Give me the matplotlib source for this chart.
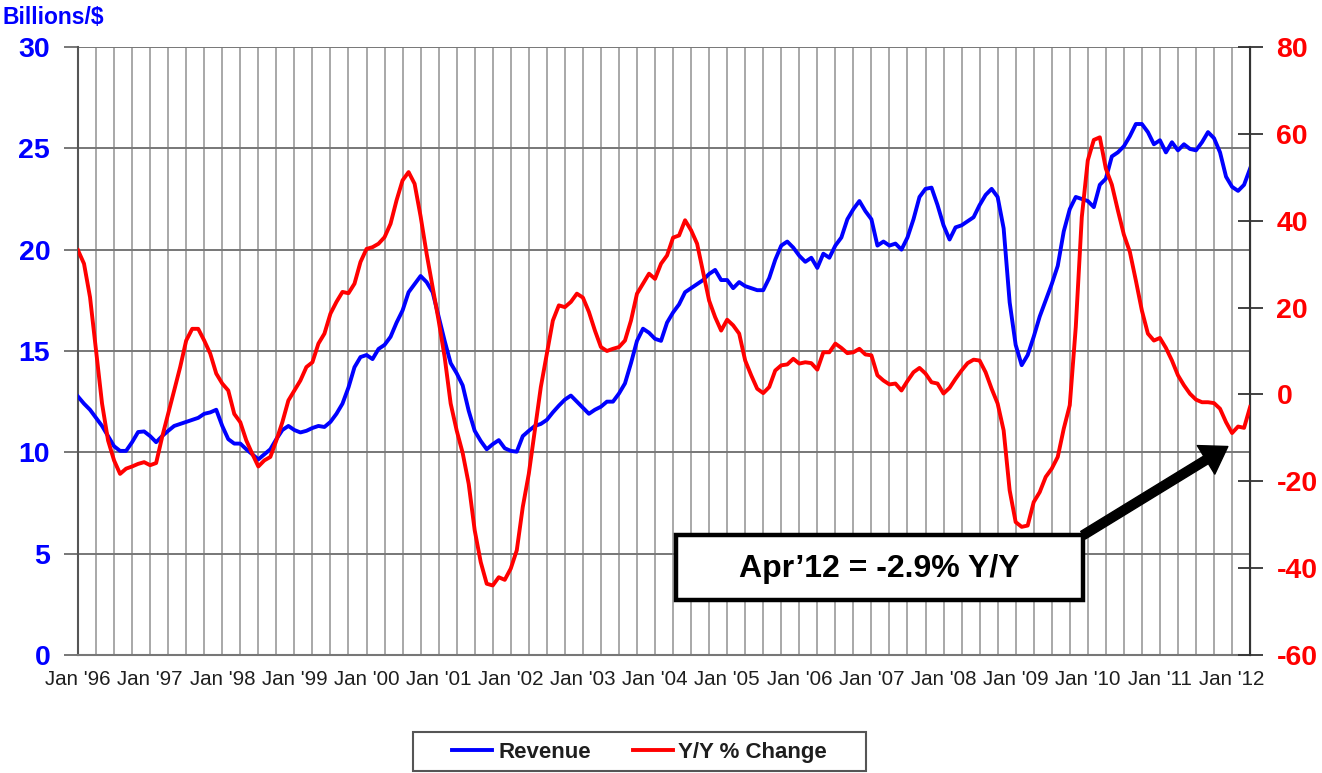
import numpy as np
import matplotlib
matplotlib.use("Agg")
import matplotlib.pyplot as plt
from matplotlib.patches import Rectangle

plt.rcParams["font.family"] = ["Liberation Sans", "DejaVu Sans"]
plt.rcParams["axes.unicode_minus"] = False

# Monthly data, Jan 1996 .. Apr 2012
revenue = [
    # 1996 - Aug 1998
    12.75, 12.4, 12.1, 11.7, 11.3, 10.8, 10.3, 10.07, 10.07, 10.5, 11.0, 11.03,
    10.8, 10.5, 10.8, 11.06, 11.3, 11.4, 11.5, 11.6, 11.7, 11.9, 11.97, 12.1,
    11.3, 10.65, 10.43, 10.43, 10.15, 9.9, 9.65, 9.9,
    10.15, 10.65, 11.1, 11.3, 11.1, 10.98, 11.06, 11.2, 11.3, 11.25, 11.5, 11.9,
    12.4, 13.2, 14.2, 14.7, 14.8, 14.6, 15.1, 15.3, 15.7, 16.4, 17.0, 17.9,
    18.3, 18.7, 18.4, 17.9, 16.7, 15.5, 14.4, 13.9,
    13.3, 12.05, 11.06, 10.56, 10.15, 10.4, 10.6, 10.2, 10.07, 10.03, 10.8, 11.06,
    11.3, 11.4, 11.6, 11.97, 12.3, 12.6, 12.8, 12.5, 12.2, 11.9, 12.1, 12.25,
    12.5, 12.5, 12.9, 13.4, 14.4, 15.5, 16.1, 15.9,
    15.6, 15.5, 16.4, 16.9, 17.3, 17.9, 18.1, 18.3, 18.5, 18.8, 19.0, 18.5,
    18.5, 18.1, 18.4, 18.2, 18.1, 18.0, 18.0, 18.6, 19.5, 20.2, 20.4, 20.1,
    19.7, 19.4, 19.6, 19.1, 19.8, 19.6, 20.2, 20.6, 21.5,
    22.0, 22.4, 21.9, 21.5, 20.2, 20.4, 20.2, 20.3, 20.0, 20.6, 21.5, 22.6,
    23.0, 23.06, 22.2, 21.2, 20.5, 21.1, 21.2, 21.4, 21.6, 22.2, 22.7, 23.0,
    22.6, 21.05, 17.4, 15.3, 14.3, 14.8, 15.7, 16.7, 17.5,
    18.3, 19.2, 20.9, 22.0, 22.6, 22.5, 22.4, 22.1, 23.2, 23.5, 24.6, 24.8,
    25.1, 25.6, 26.2, 26.2, 25.8, 25.2, 25.4, 24.8, 25.3, 24.9, 25.2, 24.97,
    24.9, 25.3, 25.8, 25.5, 24.8, 23.6, 23.1, 22.9, 23.2, 24.0,
]

yoy_change = [
    33.2, 30.1, 22.4, 10.1, -2.1, -10.6, -15.2, -18.3, -17.1, -16.6, -16.0, -15.6,
    -16.3, -15.8, -9.8, -4.5, 0.9, 6.3, 12.4, 15.1, 15.1, 12.4, 9.4, 4.8,
    2.5, 0.9, -4.5, -6.4, -10.6, -13.7, -16.6, -15.2,
    -14.4, -10.6, -6.4, -1.4, 0.9, 3.2, 6.3, 7.4, 11.7, 14.0, 18.6, 21.3,
    23.6, 23.3, 25.5, 30.5, 33.5, 33.9, 34.7, 36.2, 39.3, 44.7, 49.3, 51.2,
    48.5, 41.0, 32.4, 24.7, 17.0, 8.6, -2.1, -8.3,
    -13.5, -20.6, -31.3, -38.6, -43.6, -44.0, -42.1, -42.7, -40.1, -35.9, -25.9, -18.3,
    -8.3, 1.7, 9.4, 17.0, 20.5, 20.1, 21.3, 23.2, 22.3, 19.0, 14.7, 10.9,
    10.0, 10.5, 10.9, 12.4, 17.0, 23.2, 25.5, 27.8,
    26.6, 30.1, 32.0, 36.1, 36.6, 40.1, 37.8, 34.7, 28.2, 21.6, 17.8, 14.7,
    17.2, 15.9, 14.0, 7.8, 4.4, 1.3, 0.3, 1.7, 5.5, 6.7, 6.9, 8.2,
    7.1, 7.4, 7.2, 5.7, 9.7, 9.7, 11.7, 10.7, 9.5,
    9.7, 10.5, 9.2, 9.0, 4.4, 3.2, 2.3, 2.5, 0.9, 3.1, 5.1, 6.1,
    4.8, 2.8, 2.5, 0.2, 1.5, 3.6, 5.5, 7.2, 8.0, 7.8, 5.1, 1.3,
    -2.1, -8.3, -22.1, -29.4, -30.5, -30.2, -24.8, -22.5, -19.0,
    -17.1, -14.4, -7.9, -2.5, 15.5, 40.8, 53.9, 58.6, 59.2, 52.0, 48.3, 42.4,
    36.8, 32.8, 26.2, 19.3, 14.0, 12.4, 13.0, 10.7, 7.8, 4.4, 2.1, 0.15,
    -1.2, -1.8, -1.8, -2.0, -3.3, -6.4, -8.9, -7.4, -7.7, -2.9,
]

years = list(range(1996, 2013))
year_labels = [f"Jan '{y % 100:02d}" for y in years]
callout_text = "Apr\u201912 = -2.9% Y/Y"

assert len(revenue) == len(yoy_change) == 196
months = np.arange(len(revenue))

BLUE = "#0000ff"
RED = "#ff0000"

fig = plt.figure(figsize=(13.22, 7.73), dpi=100)
ax = fig.add_axes([0.059, 0.1527, 0.8866, 0.7865])
ax2 = ax.twinx()

ax.plot(months, revenue, color=BLUE, lw=2.8, label="Revenue", zorder=3)
ax2.plot(months, yoy_change, color=RED, lw=2.8, label="Y/Y % Change", zorder=3)

ax.set_xlim(0, len(months) - 1)
ax.set_ylim(0, 30)
ax.set_yticks(range(0, 31, 5))
ax2.set_ylim(-60, 80)
ax2.set_yticks(range(-60, 81, 20))

ax.set_xticks(np.arange(0, len(months), 12))
ax.set_xticklabels(year_labels)
ax.set_xticks(np.arange(0, len(months), 3), minor=True)

ax.grid(axis="x", which="both", color="#a8a8a8", lw=1.4)
ax.grid(axis="y", which="major", color="#777777", lw=1.4)
ax.set_axisbelow(True)

ax.tick_params(axis="x", which="both", length=0, pad=11, labelsize=14.8,
               labelcolor="#1e1e1e")
ax.tick_params(axis="y", length=10, width=1.4, color="#777777", pad=10,
               labelsize=20.5, labelcolor=BLUE)
ax2.tick_params(axis="y", direction="inout", length=18, width=1.3, color="#333333",
                pad=10, labelsize=20.5, labelcolor=RED)
for lab in ax.get_yticklabels() + ax2.get_yticklabels():
    lab.set_fontweight("bold")

for a in (ax, ax2):
    a.spines["top"].set_visible(False)
ax.spines["left"].set_color("#555555")
ax.spines["left"].set_linewidth(1.5)
ax.spines["bottom"].set_color("#777777")
ax.spines["bottom"].set_linewidth(1.5)
ax2.spines["right"].set_color("#333333")
ax2.spines["right"].set_linewidth(1.5)
ax2.spines["left"].set_visible(False)
ax2.spines["bottom"].set_visible(False)

fig.text(0.002, 0.992, "Billions/$", ha="left", va="top", color=BLUE,
         fontsize=16.5, fontweight="bold")

# callout box and arrow
ax2.add_patch(Rectangle((0.510, 0.0905), 0.3475, 0.1065, transform=ax2.transAxes,
                        facecolor="white", edgecolor="black", lw=3.2, zorder=5))
ax2.text(0.684, 0.142, callout_text, transform=ax2.transAxes, ha="center",
         va="center", fontsize=23, fontweight="bold", zorder=6)
ax2.annotate("", xy=(191.3, -12.0), xycoords="data",
             xytext=(0.8575, 0.197), textcoords="axes fraction",
             arrowprops=dict(arrowstyle="simple,head_length=0.8,head_width=1.05,tail_width=0.28",
                             fc="black", ec="black", mutation_scale=23,
                             shrinkA=0, shrinkB=0),
             zorder=6)

# legend, with its frame drawn as a separate box
h1, l1 = ax.get_legend_handles_labels()
h2, l2 = ax2.get_legend_handles_labels()
leg = fig.legend(h1 + h2, l1 + l2, loc="center", bbox_to_anchor=(0.484, 0.027),
                 ncol=2, frameon=False, prop={"size": 16, "weight": "bold"},
                 handlelength=1.8, handletextpad=0.25, columnspacing=1.9)
for t in leg.get_texts():
    t.set_color("#1e1e1e")
fig.patches.append(Rectangle((0.3124, 0.0026), 0.3427, 0.0504, transform=fig.transFigure,
                             facecolor="none", edgecolor="#555555", lw=1.5))

fig.savefig("out.png", dpi=100)
